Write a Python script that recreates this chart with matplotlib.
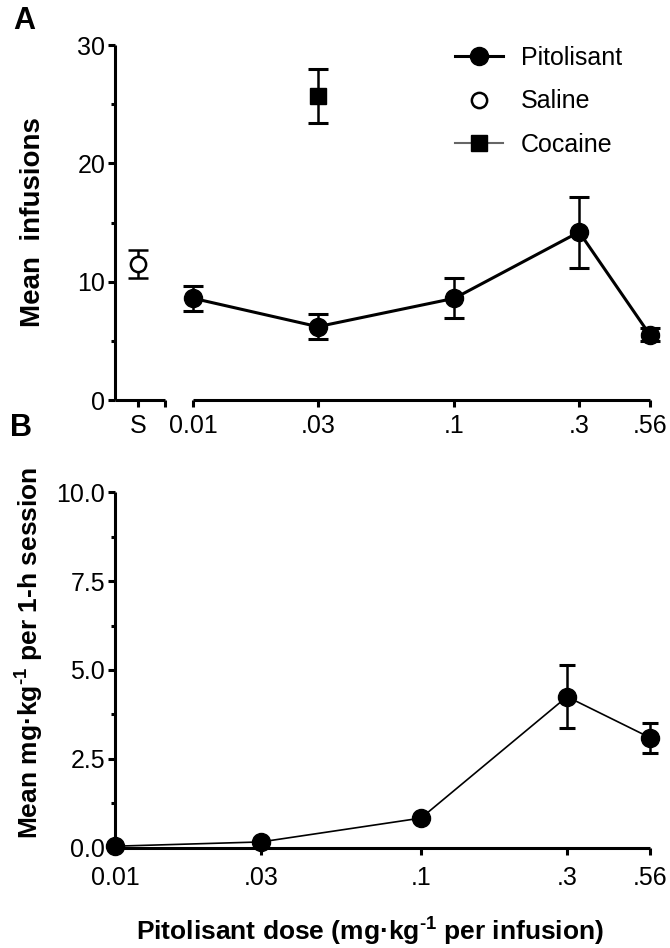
import matplotlib
matplotlib.use('Agg')
import matplotlib.pyplot as plt
from matplotlib.lines import Line2D
from matplotlib.ticker import NullLocator, MultipleLocator

plt.rcParams['font.family'] = ['Liberation Sans', 'DejaVu Sans']
plt.rcParams['mathtext.fontset'] = 'custom'
plt.rcParams['mathtext.bf'] = 'Liberation Sans:bold'
plt.rcParams['mathtext.rm'] = 'Liberation Sans:bold'
plt.rcParams['mathtext.default'] = 'bf'

# Doses (mg/kg per infusion)
doses = [0.01, 0.03, 0.1, 0.3, 0.56]
dose_labels = ['0.01', '.03', '.1', '.3', '.56']

# Panel A: mean infusions
pit_inf = [8.6, 6.2, 8.6, 14.2, 5.5]
pit_inf_err = [1.05, 1.05, 1.7, 3.0, 0.55]
saline_inf = 11.5
saline_err = 1.2
cocaine_dose = 0.03
cocaine_inf = 25.7
cocaine_err = 2.3

# Panel B: mean mg/kg per 1-h session
pit_intake = [0.05, 0.17, 0.84, 4.25, 3.1]
pit_intake_err = [0.0, 0.0, 0.0, 0.88, 0.42]

# layout helpers for the broken axis in panel A (log units)
a_left = 10 ** -2.299
s_pos = 10 ** -2.21
brk = 10 ** -2.107

LW = 2.2
FS = 18


def style_axes(ax):
    for side in ['top', 'right']:
        ax.spines[side].set_visible(False)
    for side in ['left', 'bottom']:
        ax.spines[side].set_linewidth(LW)
        ax.spines[side].set_capstyle('butt')
    ax.tick_params(axis='both', which='major', direction='out', length=5,
                   width=LW, labelsize=FS, colors='k')
    ax.tick_params(axis='y', which='minor', direction='out', length=3, width=LW)
    ax.tick_params(axis='x', pad=5)
    ax.tick_params(axis='y', pad=2)
    ax.xaxis.set_minor_locator(NullLocator())


def unclip(container):
    for child in container.get_children():
        child.set_clip_on(False)


fig = plt.figure(figsize=(6.7, 9.48), dpi=100)

# ---------------- Panel A ----------------
ax = fig.add_axes([0.1716, 0.578, 0.7985, 0.3745])
ax.set_xscale('log')
style_axes(ax)

eb = ax.errorbar(doses, pit_inf, yerr=pit_inf_err, fmt='o-', color='k', ms=13,
                 lw=LW, elinewidth=1.8, capsize=7, capthick=2.2)
unclip(eb)
eb = ax.errorbar([s_pos], [saline_inf], yerr=[saline_err], fmt='o', color='k',
                 mfc='white', mec='k', mew=1.8, ms=11, elinewidth=1.8,
                 capsize=7, capthick=2.2)
unclip(eb)
eb = ax.errorbar([cocaine_dose], [cocaine_inf], yerr=[cocaine_err], fmt='s',
                 color='k', ms=11, elinewidth=1.8, capsize=7, capthick=2.2)
unclip(eb)

ax.set_xlim(a_left, 0.56)
ax.set_ylim(0, 30)
ax.set_yticks([0, 10, 20, 30])
ax.yaxis.set_minor_locator(MultipleLocator(5))
ax.set_xticks([s_pos, brk] + doses)
ax.set_xticklabels(['S', ''] + dose_labels)
ax.spines['bottom'].set_bounds(0.01, 0.56)
ax.plot([a_left, brk], [0, 0], color='k', lw=LW, clip_on=False,
        solid_capstyle='butt')

ax.set_ylabel('Mean  infusions', fontsize=20, fontweight='bold')
ax.yaxis.set_label_coords(-0.128, 0.5)

handles = [
    Line2D([], [], color='k', marker='o', ms=13, lw=LW),
    Line2D([], [], ls='none', marker='o', mfc='white', mec='k', mew=1.8, ms=11),
    Line2D([], [], color='0.4', marker='s', mfc='k', mec='k', ms=11, lw=1.5),
]
fig.legend(handles, ['Pitolisant', 'Saline', 'Cocaine'], loc='upper left',
           bbox_to_anchor=(455 / 670, 1 - 46 / 948), frameon=False,
           fontsize=FS, handlelength=1.9, handletextpad=0.75,
           labelspacing=0.78, borderpad=0, borderaxespad=0)

# ---------------- Panel B ----------------
ax2 = fig.add_axes([0.1716, 0.1055, 0.7985, 0.3755])
ax2.set_xscale('log')
style_axes(ax2)
ax2.tick_params(axis='x', pad=8)

ax2.plot(doses, pit_intake, 'o-', color='k', ms=13, lw=1.2, clip_on=False,
         zorder=3)
err_idx = [i for i, e in enumerate(pit_intake_err) if e > 0]
eb = ax2.errorbar([doses[i] for i in err_idx], [pit_intake[i] for i in err_idx],
                  yerr=[pit_intake_err[i] for i in err_idx], fmt='none',
                  ecolor='k', elinewidth=1.8, capsize=6, capthick=2.2)
unclip(eb)

ax2.set_xlim(0.01, 0.56)
ax2.set_ylim(0, 10)
ax2.set_yticks([0, 2.5, 5, 7.5, 10])
ax2.set_yticklabels(['0.0', '2.5', '5.0', '7.5', '10.0'])
ax2.yaxis.set_minor_locator(MultipleLocator(1.25))
ax2.set_xticks(doses)
ax2.set_xticklabels(dose_labels)

ax2.set_ylabel(r'Mean mg·kg$^{\text{-1}}$ per 1-h session', fontsize=19,
               fontweight='bold')
ax2.yaxis.set_label_coords(-0.128, 0.548)
ax2.set_xlabel(r'Pitolisant dose (mg·kg$^{\text{-1}}$ per infusion)',
               fontsize=19, fontweight='bold')
ax2.xaxis.set_label_coords(0.477, -0.19)

fig.text(24 / 670, 1 - 21 / 948, 'A', ha='center', va='center', fontsize=22,
         fontweight='bold')
fig.text(21 / 670, 1 - 428 / 948, 'B', ha='center', va='center', fontsize=22,
         fontweight='bold')

fig.savefig('out.png', dpi=100)
